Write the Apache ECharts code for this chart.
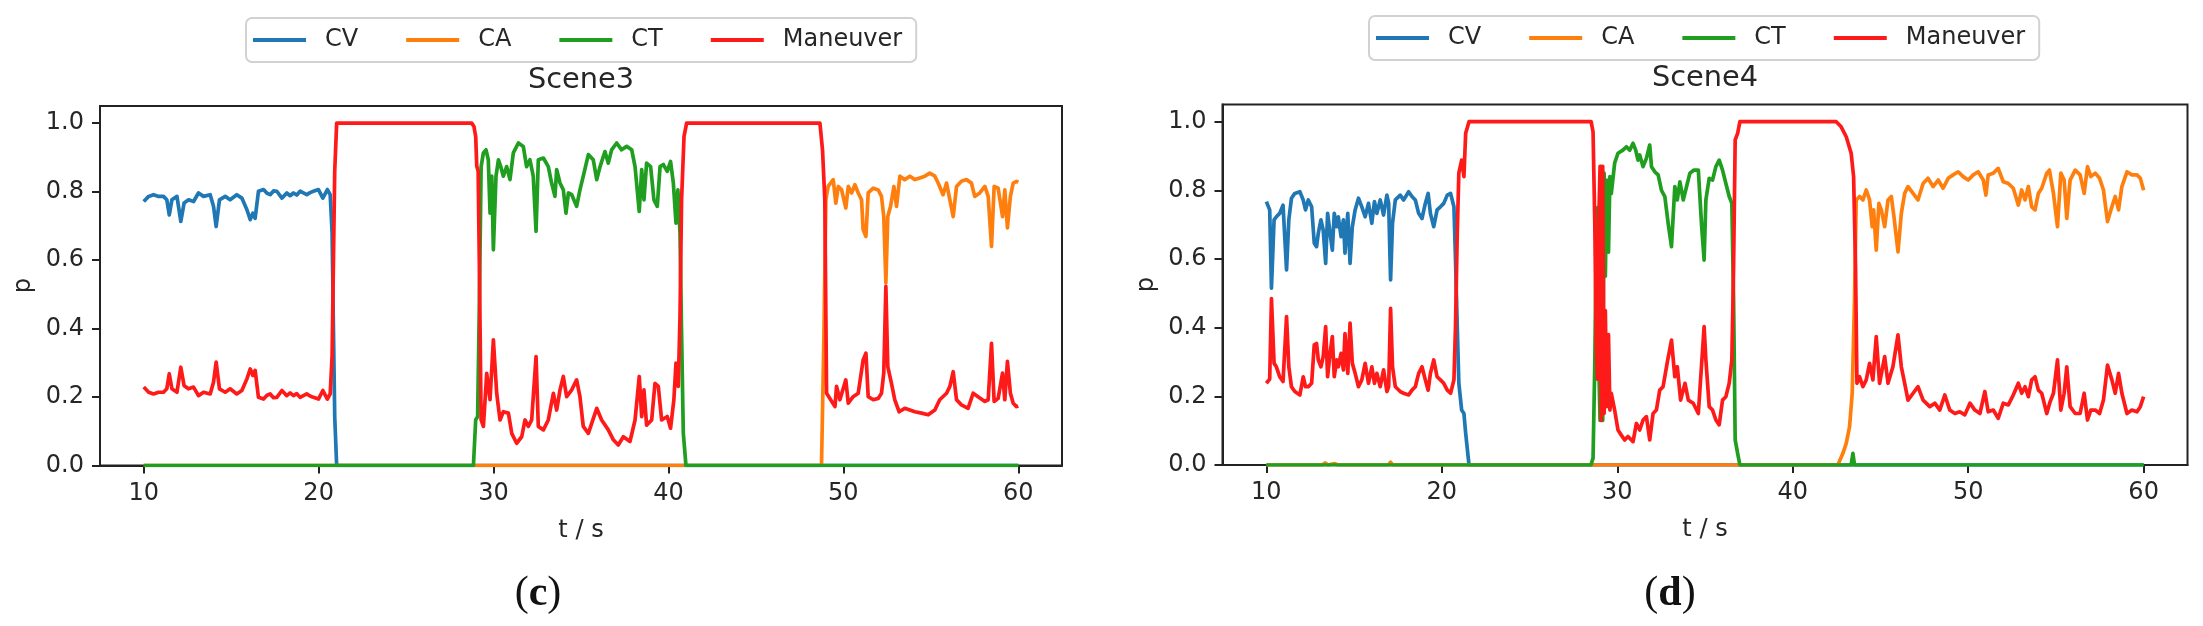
<!DOCTYPE html>
<html>
<head>
<meta charset="utf-8">
<title>Scene3 / Scene4</title>
<script src="https://cdn.jsdelivr.net/npm/echarts@6/dist/echarts.min.js"></script>
<style>
  html, body { margin: 0; padding: 0; background: #fff; }
  #chart { width: 2203px; height: 626px; }
</style>
</head>
<body>
<div id="chart"></div>
<script>
// tick positions and legend names
var xTicks = [10, 20, 30, 40, 50, 60];
var yTicks = [0, 0.2, 0.4, 0.6, 0.8, 1.0];
var modelNames = ['CV', 'CA', 'CT', 'Maneuver'];
var sceneTitles = ['Scene3', 'Scene4'];
var panelTags = ['c', 'd'];

// Scene3, [t, p]
var scene3CV = [[10.00,0.771],[10.28,0.786],[10.56,0.791],[10.85,0.786],[11.13,0.786],[11.32,0.776],[11.46,0.732],[11.61,0.776],[11.90,0.786],[12.12,0.713],[12.31,0.767],[12.56,0.776],[12.85,0.771],[13.13,0.796],[13.42,0.786],[13.80,0.791],[13.99,0.757],[14.14,0.698],[14.33,0.776],[14.66,0.786],[14.94,0.776],[15.32,0.791],[15.61,0.781],[15.90,0.747],[16.09,0.718],[16.24,0.737],[16.37,0.722],[16.56,0.801],[16.85,0.806],[17.05,0.795],[17.23,0.791],[17.42,0.802],[17.61,0.801],[17.90,0.781],[18.18,0.796],[18.37,0.788],[18.56,0.796],[18.75,0.790],[18.94,0.801],[19.13,0.796],[19.32,0.791],[19.51,0.797],[19.70,0.801],[19.99,0.806],[20.24,0.781],[20.50,0.806],[20.66,0.791],[20.77,0.679],[20.85,0.386],[20.92,0.143],[21.03,0],[60,0]];
var scene3CA = [[10,0],[48.75,0],[48.89,0.386],[49.00,0.776],[49.13,0.815],[49.42,0.835],[49.57,0.766],[49.71,0.815],[49.90,0.805],[50.14,0.752],[50.28,0.815],[50.47,0.796],[50.66,0.820],[50.85,0.796],[51.04,0.776],[51.13,0.689],[51.29,0.669],[51.42,0.796],[51.71,0.810],[51.99,0.805],[52.18,0.786],[52.31,0.727],[52.43,0.533],[52.54,0.727],[52.70,0.757],[52.89,0.815],[53.04,0.757],[53.23,0.845],[53.51,0.835],[53.80,0.845],[54.09,0.835],[54.37,0.840],[54.66,0.845],[54.94,0.854],[55.23,0.845],[55.42,0.825],[55.70,0.791],[55.90,0.825],[56.09,0.776],[56.28,0.727],[56.47,0.815],[56.75,0.830],[57.04,0.835],[57.32,0.825],[57.51,0.786],[57.80,0.796],[58.09,0.815],[58.28,0.786],[58.47,0.640],[58.62,0.815],[58.85,0.810],[59.10,0.727],[59.23,0.805],[59.38,0.694],[59.55,0.786],[59.71,0.825],[59.90,0.830],[60.00,0.827]];
var scene3CT = [[10,0],[28.85,0],[28.98,0.133],[29.09,0.143],[29.19,0.48],[29.29,0.873],[29.42,0.913],[29.57,0.922],[29.70,0.893],[29.80,0.737],[29.90,0.845],[29.99,0.630],[30.14,0.845],[30.28,0.893],[30.41,0.873],[30.56,0.845],[30.75,0.873],[30.94,0.835],[31.13,0.913],[31.42,0.942],[31.70,0.932],[31.89,0.873],[32.08,0.893],[32.27,0.845],[32.43,0.684],[32.56,0.893],[32.85,0.898],[33.13,0.873],[33.32,0.825],[33.51,0.786],[33.61,0.864],[33.80,0.825],[33.99,0.805],[34.14,0.737],[34.28,0.796],[34.47,0.791],[34.75,0.757],[34.94,0.805],[35.13,0.845],[35.42,0.908],[35.70,0.893],[35.90,0.835],[36.09,0.873],[36.37,0.917],[36.56,0.883],[36.75,0.922],[37.04,0.942],[37.32,0.922],[37.61,0.932],[37.90,0.922],[38.09,0.873],[38.33,0.742],[38.47,0.864],[38.60,0.776],[38.75,0.883],[38.98,0.873],[39.17,0.776],[39.36,0.757],[39.52,0.873],[39.71,0.879],[39.93,0.859],[40.12,0.888],[40.28,0.825],[40.43,0.708],[40.54,0.805],[40.66,0.679],[40.75,0.386],[40.85,0.094],[41.00,0],[60,0]];
var scene3Man = [[10.00,0.229],[10.28,0.214],[10.56,0.209],[10.85,0.214],[11.13,0.214],[11.32,0.224],[11.46,0.268],[11.61,0.224],[11.90,0.214],[12.12,0.287],[12.31,0.233],[12.56,0.224],[12.85,0.229],[13.13,0.204],[13.42,0.214],[13.80,0.209],[13.99,0.243],[14.14,0.302],[14.33,0.224],[14.66,0.214],[14.94,0.224],[15.32,0.209],[15.61,0.219],[15.90,0.253],[16.09,0.282],[16.24,0.263],[16.37,0.278],[16.56,0.199],[16.85,0.194],[17.05,0.205],[17.23,0.209],[17.42,0.198],[17.61,0.199],[17.90,0.219],[18.18,0.204],[18.37,0.212],[18.56,0.204],[18.75,0.210],[18.94,0.199],[19.13,0.204],[19.32,0.209],[19.51,0.203],[19.70,0.199],[19.99,0.194],[20.24,0.219],[20.50,0.194],[20.66,0.209],[20.77,0.32],[20.85,0.61],[20.92,0.86],[21.03,1.0],[28.75,1.0],[28.88,0.99],[28.98,0.96],[29.04,0.874],[29.12,0.86],[29.19,0.58],[29.29,0.133],[29.42,0.114],[29.61,0.269],[29.80,0.192],[29.99,0.367],[30.18,0.211],[30.37,0.133],[30.56,0.157],[30.85,0.153],[31.04,0.094],[31.32,0.065],[31.61,0.084],[31.80,0.133],[31.99,0.114],[32.18,0.133],[32.43,0.318],[32.56,0.114],[32.85,0.104],[33.13,0.133],[33.42,0.211],[33.61,0.162],[33.80,0.221],[33.99,0.260],[34.18,0.201],[34.47,0.221],[34.75,0.250],[34.94,0.201],[35.13,0.114],[35.42,0.094],[35.90,0.167],[36.18,0.133],[36.56,0.104],[36.85,0.075],[37.13,0.060],[37.42,0.084],[37.80,0.070],[38.09,0.133],[38.33,0.260],[38.47,0.143],[38.60,0.221],[38.75,0.118],[39.04,0.133],[39.23,0.240],[39.42,0.231],[39.61,0.133],[39.93,0.143],[40.12,0.109],[40.31,0.192],[40.43,0.299],[40.56,0.231],[40.66,0.435],[40.75,0.776],[40.89,0.961],[41.04,1.0],[48.66,1.0],[48.81,0.92],[48.94,0.776],[49.04,0.211],[49.13,0.211],[49.52,0.172],[49.61,0.231],[49.80,0.192],[50.14,0.250],[50.28,0.182],[50.56,0.201],[50.85,0.211],[51.13,0.308],[51.29,0.328],[51.42,0.201],[51.71,0.192],[51.99,0.196],[52.18,0.211],[52.31,0.270],[52.43,0.523],[52.54,0.289],[52.75,0.240],[52.94,0.192],[53.19,0.157],[53.51,0.167],[53.80,0.162],[54.09,0.157],[54.47,0.153],[54.85,0.148],[55.23,0.162],[55.51,0.192],[55.90,0.211],[56.09,0.231],[56.28,0.274],[56.47,0.192],[56.75,0.177],[57.13,0.167],[57.42,0.211],[57.70,0.201],[58.09,0.187],[58.28,0.192],[58.47,0.357],[58.62,0.187],[58.85,0.196],[59.10,0.270],[59.23,0.192],[59.38,0.304],[59.55,0.211],[59.71,0.182],[59.90,0.172],[60.00,0.174]];

// Scene4, [t, p]
var scene4CV = [[10.00,0.767],[10.10,0.762],[10.19,0.743],[10.29,0.515],[10.44,0.714],[10.57,0.723],[10.76,0.733],[10.95,0.757],[11.15,0.568],[11.28,0.714],[11.43,0.777],[11.62,0.791],[11.91,0.796],[12.10,0.772],[12.23,0.743],[12.39,0.772],[12.58,0.752],[12.73,0.646],[12.86,0.636],[12.96,0.675],[13.11,0.714],[13.24,0.684],[13.38,0.587],[13.49,0.733],[13.63,0.675],[13.76,0.626],[13.87,0.733],[14.01,0.694],[14.10,0.723],[14.26,0.665],[14.39,0.714],[14.48,0.617],[14.64,0.733],[14.77,0.587],[14.90,0.694],[15.06,0.743],[15.25,0.777],[15.44,0.752],[15.63,0.723],[15.82,0.762],[16.01,0.704],[16.16,0.767],[16.30,0.733],[16.49,0.772],[16.68,0.728],[16.87,0.786],[16.97,0.762],[17.08,0.539],[17.19,0.704],[17.35,0.772],[17.63,0.786],[17.82,0.772],[18.11,0.796],[18.30,0.782],[18.49,0.772],[18.68,0.733],[18.87,0.718],[19.06,0.762],[19.22,0.791],[19.35,0.733],[19.54,0.694],[19.73,0.743],[19.92,0.752],[20.11,0.762],[20.31,0.786],[20.50,0.791],[20.69,0.752],[20.78,0.597],[20.88,0.403],[20.97,0.238],[21.13,0.160],[21.26,0.150],[21.36,0.092],[21.55,0],[60,0]];
var scene4CA = [[10,0],[13.20,0],[13.35,0.006],[13.50,0],[13.90,0.004],[14.10,0],[16.95,0],[17.08,0.008],[17.20,0],[42.57,0],[42.86,0.034],[43.05,0.063],[43.24,0.112],[43.39,0.209],[43.52,0.480],[43.62,0.772],[43.81,0.782],[44.00,0.772],[44.19,0.801],[44.38,0.772],[44.53,0.694],[44.61,0.743],[44.76,0.626],[44.91,0.762],[45.05,0.743],[45.24,0.694],[45.43,0.772],[45.62,0.782],[45.77,0.723],[46.00,0.621],[46.19,0.733],[46.38,0.791],[46.57,0.811],[46.86,0.791],[47.14,0.772],[47.43,0.820],[47.71,0.835],[48.00,0.811],[48.29,0.830],[48.57,0.806],[48.86,0.835],[49.14,0.845],[49.43,0.854],[49.71,0.840],[50.00,0.830],[50.29,0.845],[50.57,0.854],[50.86,0.830],[51.01,0.786],[51.14,0.845],[51.43,0.850],[51.71,0.864],[52.00,0.825],[52.29,0.820],[52.57,0.806],[52.86,0.757],[53.05,0.801],[53.24,0.772],[53.43,0.811],[53.62,0.752],[53.81,0.743],[54.00,0.791],[54.19,0.806],[54.48,0.850],[54.63,0.859],[54.86,0.791],[55.09,0.694],[55.28,0.850],[55.47,0.830],[55.62,0.718],[55.81,0.830],[56.10,0.859],[56.38,0.845],[56.61,0.791],[56.80,0.869],[56.99,0.840],[57.24,0.850],[57.49,0.835],[57.71,0.801],[57.94,0.709],[58.19,0.752],[58.38,0.782],[58.57,0.743],[58.76,0.811],[59.05,0.854],[59.33,0.845],[59.62,0.845],[59.81,0.835],[60.00,0.800]];
var scene4CT = [[10,0],[28.50,0],[28.62,0.02],[28.72,0.30],[28.80,0.65],[28.87,0.75],[28.95,0.28],[29.02,0.13],[29.08,0.87],[29.17,0.13],[29.25,0.85],[29.32,0.55],[29.40,0.83],[29.50,0.62],[29.58,0.84],[29.66,0.791],[29.85,0.879],[30.04,0.908],[30.32,0.917],[30.52,0.927],[30.71,0.917],[30.90,0.937],[31.05,0.917],[31.18,0.888],[31.28,0.903],[31.47,0.869],[31.66,0.893],[31.85,0.932],[31.95,0.869],[32.14,0.854],[32.33,0.845],[32.52,0.800],[32.71,0.782],[32.90,0.704],[33.09,0.636],[33.28,0.811],[33.42,0.772],[33.57,0.825],[33.76,0.772],[33.95,0.811],[34.14,0.850],[34.37,0.859],[34.62,0.859],[34.81,0.694],[34.95,0.597],[35.05,0.772],[35.24,0.835],[35.43,0.830],[35.62,0.869],[35.81,0.888],[36.00,0.859],[36.19,0.820],[36.38,0.782],[36.53,0.762],[36.63,0.480],[36.72,0.073],[36.86,0.034],[36.99,0],[43.33,0],[43.43,0.034],[43.52,0],[60,0]];
var scene4Man = [[10.00,0.238],[10.10,0.233],[10.19,0.250],[10.29,0.485],[10.44,0.296],[10.57,0.286],[10.76,0.257],[10.95,0.243],[11.15,0.432],[11.28,0.286],[11.43,0.228],[11.62,0.214],[11.91,0.204],[12.10,0.257],[12.23,0.228],[12.39,0.228],[12.58,0.238],[12.73,0.350],[12.86,0.354],[12.96,0.306],[13.11,0.286],[13.24,0.316],[13.38,0.403],[13.49,0.257],[13.63,0.325],[13.76,0.374],[13.87,0.257],[14.01,0.306],[14.10,0.286],[14.26,0.325],[14.39,0.277],[14.48,0.383],[14.64,0.267],[14.77,0.413],[14.90,0.296],[15.06,0.267],[15.25,0.228],[15.44,0.248],[15.63,0.296],[15.82,0.238],[16.01,0.286],[16.16,0.238],[16.30,0.267],[16.49,0.228],[16.68,0.277],[16.87,0.214],[16.97,0.228],[17.08,0.456],[17.19,0.286],[17.35,0.228],[17.63,0.214],[17.82,0.209],[18.11,0.204],[18.30,0.218],[18.49,0.228],[18.68,0.267],[18.87,0.286],[19.06,0.248],[19.22,0.218],[19.35,0.267],[19.54,0.306],[19.73,0.257],[19.92,0.248],[20.11,0.238],[20.31,0.218],[20.50,0.209],[20.69,0.248],[20.78,0.403],[20.88,0.675],[20.97,0.850],[21.13,0.888],[21.26,0.840],[21.36,0.966],[21.55,1.0],[28.51,1.0],[28.62,0.97],[28.72,0.70],[28.80,0.35],[28.87,0.25],[28.95,0.72],[29.02,0.87],[29.08,0.13],[29.17,0.87],[29.25,0.15],[29.32,0.45],[29.40,0.17],[29.50,0.38],[29.58,0.16],[29.66,0.209],[29.85,0.160],[30.04,0.102],[30.23,0.087],[30.42,0.073],[30.61,0.083],[30.90,0.068],[31.09,0.121],[31.28,0.102],[31.47,0.131],[31.66,0.141],[31.85,0.073],[32.04,0.150],[32.23,0.160],[32.42,0.218],[32.61,0.228],[32.84,0.296],[33.09,0.364],[33.28,0.257],[33.42,0.286],[33.61,0.189],[33.86,0.238],[34.05,0.189],[34.33,0.180],[34.62,0.150],[34.81,0.296],[34.95,0.403],[35.05,0.306],[35.24,0.170],[35.43,0.160],[35.62,0.131],[35.81,0.117],[36.00,0.189],[36.19,0.199],[36.38,0.238],[36.53,0.306],[36.63,0.578],[36.72,0.947],[36.86,0.966],[36.99,1.0],[42.48,1.0],[42.76,0.985],[43.05,0.956],[43.33,0.908],[43.47,0.840],[43.58,0.578],[43.66,0.238],[43.81,0.257],[44.00,0.228],[44.19,0.248],[44.38,0.296],[44.57,0.248],[44.76,0.374],[44.95,0.238],[45.24,0.316],[45.43,0.238],[45.71,0.286],[46.00,0.379],[46.19,0.286],[46.38,0.238],[46.57,0.189],[46.86,0.209],[47.14,0.228],[47.43,0.189],[47.81,0.170],[48.10,0.180],[48.38,0.160],[48.67,0.204],[48.95,0.160],[49.24,0.150],[49.52,0.155],[49.81,0.146],[50.10,0.180],[50.38,0.160],[50.67,0.150],[50.95,0.214],[51.14,0.155],[51.43,0.160],[51.71,0.136],[52.00,0.180],[52.29,0.175],[52.57,0.204],[52.86,0.238],[53.05,0.209],[53.24,0.228],[53.43,0.199],[53.62,0.248],[53.81,0.257],[54.00,0.218],[54.19,0.209],[54.48,0.150],[54.67,0.184],[54.86,0.209],[55.09,0.306],[55.28,0.160],[55.47,0.209],[55.62,0.286],[55.81,0.170],[56.10,0.150],[56.38,0.150],[56.61,0.209],[56.80,0.131],[56.99,0.160],[57.24,0.160],[57.49,0.150],[57.71,0.189],[57.94,0.291],[58.19,0.248],[58.38,0.209],[58.57,0.267],[58.76,0.209],[59.05,0.150],[59.33,0.160],[59.62,0.155],[59.81,0.170],[60.00,0.199]];

var colors = ['#1f77b4', '#ff7f0e', '#1f9e1f', '#ff1a1a'];
var font = "'DejaVu Sans', sans-serif";
var ink = '#262626';
var frame = '#222';

var chart = echarts.init(document.getElementById('chart'));

function makeX(i) {
    return {
        type: 'value', gridIndex: i, min: 7.5, max: 62.5,
        name: 't / s', nameLocation: 'middle', nameGap: 53,
        nameTextStyle: { fontFamily: font, fontSize: 24, color: ink },
        axisLine: { show: true, onZero: false, lineStyle: { color: frame, width: 2 } },
        axisTick: { show: true, length: 8, customValues: xTicks, lineStyle: { color: frame, width: 2 } },
        axisLabel: { customValues: xTicks, fontFamily: font, fontSize: 24, color: ink, margin: 16 },
        splitLine: { show: false }
    };
}

function makeY(i) {
    return {
        type: 'value', gridIndex: i, min: 0, max: 1.05,
        name: 'p', nameLocation: 'middle', nameGap: 64,
        nameTextStyle: { fontFamily: font, fontSize: 24, color: ink },
        axisLine: { show: true, onZero: false, lineStyle: { color: frame, width: 2 } },
        axisTick: { show: true, length: 8, customValues: yTicks, lineStyle: { color: frame, width: 2 } },
        axisLabel: {
            customValues: yTicks, fontFamily: font, fontSize: 24, color: ink, margin: 16,
            formatter: function (v) { return v.toFixed(1); }
        },
        splitLine: { show: false }
    };
}

// legend handles are drawn as thin bars, like matplotlib line handles
function makeLegend(left, top) {
    return {
        left: left, top: top, orient: 'horizontal',
        data: modelNames,
        icon: 'rect',
        itemWidth: 53, itemHeight: 4, itemGap: 48,
        padding: [10, 14, 10, 7],
        backgroundColor: 'rgba(255,255,255,0.8)',
        borderColor: '#d2d2d2', borderWidth: 2, borderRadius: 6,
        textStyle: { fontFamily: font, fontSize: 24, color: ink, padding: [0, 0, 0, 14] },
        selectedMode: false
    };
}

function makeLine(name, data, colorIdx, gridIdx) {
    return {
        name: name, type: 'line', data: data,
        xAxisIndex: gridIdx, yAxisIndex: gridIdx,
        symbol: 'none', showSymbol: false,
        color: colors[colorIdx],
        itemStyle: { color: colors[colorIdx] },
        lineStyle: { width: 3.7, color: colors[colorIdx], join: 'round' },
        z: 2 + colorIdx
    };
}

function panelText(x, y, txt, size, isTag) {
    if (isTag) {
        return {
            type: 'text', x: x, y: y,
            style: {
                text: '{n|(}{b|' + txt + '}{n|)}',
                rich: {
                    n: { fontFamily: "'Liberation Serif', serif", fontSize: size, fill: '#111' },
                    b: { fontFamily: "'Liberation Serif', serif", fontSize: size, fontWeight: 'bold', fill: '#111' }
                },
                align: 'center', verticalAlign: 'middle',
                textAlign: 'center', textVerticalAlign: 'middle'
            }
        };
    }
    return {
        type: 'text', x: x, y: y,
        style: {
            text: txt, fontFamily: font, fontSize: size, fill: ink,
            align: 'center', verticalAlign: 'middle',
            textAlign: 'center', textVerticalAlign: 'middle'
        }
    };
}

var option = {
    animation: false,
    backgroundColor: '#ffffff',
    grid: [
        { left: 100, top: 106, width: 962, height: 359.5, show: true, borderColor: frame, borderWidth: 2, backgroundColor: 'transparent' },
        { left: 1222.5, top: 104.5, width: 965, height: 360.5, show: true, borderColor: frame, borderWidth: 2, backgroundColor: 'transparent' }
    ],
    xAxis: [makeX(0), makeX(1)],
    yAxis: [makeY(0), makeY(1)],
    legend: [makeLegend(246, 18), makeLegend(1369, 16)],
    graphic: [
        panelText(581, 81, sceneTitles[0], 28.8, false),
        panelText(1705, 79, sceneTitles[1], 28.8, false),
        panelText(538, 594, panelTags[0], 42, true),
        panelText(1670, 594, panelTags[1], 42, true)
    ],
    series: [
        makeLine('CV', scene3CV, 0, 0),
        makeLine('CA', scene3CA, 1, 0),
        makeLine('CT', scene3CT, 2, 0),
        makeLine('Maneuver', scene3Man, 3, 0),
        makeLine('CV', scene4CV, 0, 1),
        makeLine('CA', scene4CA, 1, 1),
        makeLine('CT', scene4CT, 2, 1),
        makeLine('Maneuver', scene4Man, 3, 1)
    ]
};

chart.setOption(option);
</script>
</body>
</html>
